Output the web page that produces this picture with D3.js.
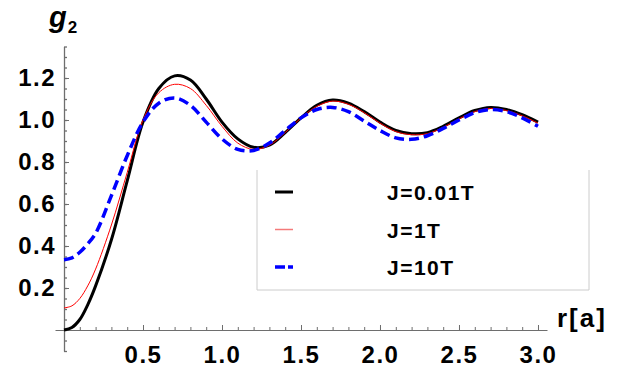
<!DOCTYPE html>
<html>
<head>
<meta charset="utf-8">
<script src="https://cdn.jsdelivr.net/npm/d3@7"></script>
<style>
  body { margin: 0; background: #fff; }
  svg { display: block; font-family: "Liberation Sans", Arial, sans-serif; font-weight: bold; }
</style>
</head>
<body>
<div class="canvas"></div>
<script>
// r values (in units of a)
const r = [0, 0.05, 0.1, 0.15, 0.2, 0.3, 0.4, 0.5, 0.6, 0.7, 0.8, 0.9, 1.0, 1.1, 1.2, 1.3, 1.4, 1.5,
  1.6, 1.7, 1.8, 1.9, 2.0, 2.1, 2.2, 2.3, 2.4, 2.5, 2.6, 2.7, 2.8, 2.9, 3.0];

const gJ001 = [0, 0.012, 0.05, 0.12, 0.21, 0.43, 0.71, 0.99, 1.15, 1.21, 1.19, 1.10, 0.99, 0.91, 0.87, 0.88, 0.94, 1.01,
  1.07, 1.095, 1.08, 1.04, 0.99, 0.95, 0.935, 0.94, 0.97, 1.01, 1.045, 1.06, 1.05, 1.025, 0.99];
const gJ1 = [0.105, 0.115, 0.15, 0.21, 0.29, 0.5, 0.75, 1.0, 1.13, 1.17, 1.15, 1.07, 0.97, 0.89, 0.86, 0.88, 0.94, 1.01,
  1.065, 1.09, 1.075, 1.035, 0.985, 0.945, 0.93, 0.935, 0.965, 1.005, 1.04, 1.055, 1.045, 1.02, 0.985];
const gJ10 = [0.335, 0.343, 0.37, 0.41, 0.46, 0.64, 0.83, 0.99, 1.08, 1.105, 1.07, 0.99, 0.91, 0.86, 0.855, 0.89, 0.95, 1.01,
  1.05, 1.06, 1.04, 0.995, 0.95, 0.915, 0.908, 0.925, 0.96, 1.0, 1.035, 1.05, 1.04, 1.01, 0.97];

const seriesNames = ["J=0.01T", "J=1T", "J=10T"];

const xTicks = [0.5, 1.0, 1.5, 2.0, 2.5, 3.0];
const xTickLabels = ["0.5", "1.0", "1.5", "2.0", "2.5", "3.0"];
const yTicks = [0.2, 0.4, 0.6, 0.8, 1.0, 1.2];
const yTickLabels = ["0.2", "0.4", "0.6", "0.8", "1.0", "1.2"];

const width = 626;
const height = 371;

const x = d3.scaleLinear().domain([-0.057, 3.057]).range([55, 547]);
const y = d3.scaleLinear().domain([-0.1, 1.35]).range([351, 46.5]);

const svg = d3.select(".canvas").append("svg")
  .attr("width", width)
  .attr("height", height);

const axisColor = "#6e6e6e";

// minor ticks
const xMinor = d3.range(1, 31).map((i) => i / 10);
const yMinor = d3.range(-2, 28).map((i) => i / 20);

svg.append("g")
  .attr("transform", `translate(0, ${y(0)})`)
  .call(d3.axisBottom(x).tickValues(xMinor).tickSize(-3).tickSizeOuter(0).tickFormat(""))
  .call((g) => g.selectAll("line, path").attr("stroke", axisColor));

svg.append("g")
  .attr("transform", `translate(${x(0)}, 0)`)
  .call(d3.axisLeft(y).tickValues(yMinor).tickSize(-3).tickSizeOuter(0).tickFormat(""))
  .call((g) => g.selectAll("line, path").attr("stroke", axisColor).attr("stroke-width", 1.3));

// major ticks with labels
const xAxis = svg.append("g")
  .attr("transform", `translate(0, ${y(0)})`)
  .call(d3.axisBottom(x).tickValues(xTicks).tickSize(-5).tickSizeOuter(0).tickPadding(16)
    .tickFormat((d, i) => xTickLabels[i]));
xAxis.select(".domain").remove();
xAxis.selectAll("line").attr("stroke", axisColor);

const yAxis = svg.append("g")
  .attr("transform", `translate(${x(0)}, 0)`)
  .call(d3.axisLeft(y).tickValues(yTicks).tickSize(-5).tickSizeOuter(0).tickPadding(8)
    .tickFormat((d, i) => yTickLabels[i]));
yAxis.select(".domain").remove();
yAxis.selectAll("line").attr("stroke", axisColor);

svg.selectAll(".tick text")
  .attr("fill", "#000")
  .style("font-family", "'Liberation Sans', Arial, sans-serif")
  .style("font-weight", "bold")
  .style("font-size", "24px")
  .style("letter-spacing", "1.5px");

// axis labels
const gLabel = svg.append("text")
  .attr("x", 49)
  .attr("y", 27)
  .attr("fill", "#000");
gLabel.append("tspan")
  .style("font-style", "italic")
  .style("font-size", "29px")
  .text("g");
gLabel.append("tspan")
  .attr("dx", 1)
  .attr("dy", 6)
  .style("font-size", "17px")
  .text("2");

svg.append("text")
  .attr("x", 557)
  .attr("y", 327)
  .style("font-size", "26px")
  .style("letter-spacing", "2px")
  .attr("fill", "#000")
  .text("r[a]");

// curves
const line = d3.line()
  .x((d) => x(d[0]))
  .y((d) => y(d[1]))
  .curve(d3.curveCatmullRom.alpha(0.5));

const styles = [
  { stroke: "#000", width: 3, dash: null },
  { stroke: "#ff0000", width: 1, dash: null },
  { stroke: "#0000ff", width: 3.5, dash: "10,5" },
];
const series = [gJ001, gJ1, gJ10];

const chart = svg.append("g").attr("class", "chart");

chart.selectAll("path")
  .data(series)
  .enter()
  .append("path")
  .attr("d", (s) => line(r.map((v, i) => [v, s[i]])))
  .attr("fill", "none")
  .attr("stroke", (d, i) => styles[i].stroke)
  .attr("stroke-width", (d, i) => styles[i].width)
  .attr("stroke-dasharray", (d, i) => styles[i].dash);

// legend
const legend = svg.append("g").attr("id", "legend");
const frameColor = "#cccccc";
legend.append("path")
  .attr("d", "M257,170 V290 H589 V170")
  .attr("fill", "none")
  .attr("stroke", frameColor)
  .attr("stroke-width", 1);

const legendStyles = [
  { stroke: "#000", width: 3, dash: null },
  { stroke: "#f47a7a", width: 1.5, dash: null },
  { stroke: "#0000ff", width: 3.5, dash: "10,3" },
];

const entries = legend.selectAll("g.entry")
  .data(seriesNames)
  .enter()
  .append("g")
  .attr("class", "entry")
  .attr("transform", (d, i) => `translate(0, ${192 + i * 37.5})`);

entries.append("line")
  .attr("x1", 275)
  .attr("x2", 293)
  .attr("stroke", (d, i) => legendStyles[i].stroke)
  .attr("stroke-width", (d, i) => legendStyles[i].width)
  .attr("stroke-dasharray", (d, i) => legendStyles[i].dash);

entries.append("text")
  .attr("x", 387)
  .attr("y", 8)
  .style("font-size", "21px")
  .style("letter-spacing", "1.5px")
  .attr("fill", "#000")
  .text((d) => d);
</script>
</body>
</html>
